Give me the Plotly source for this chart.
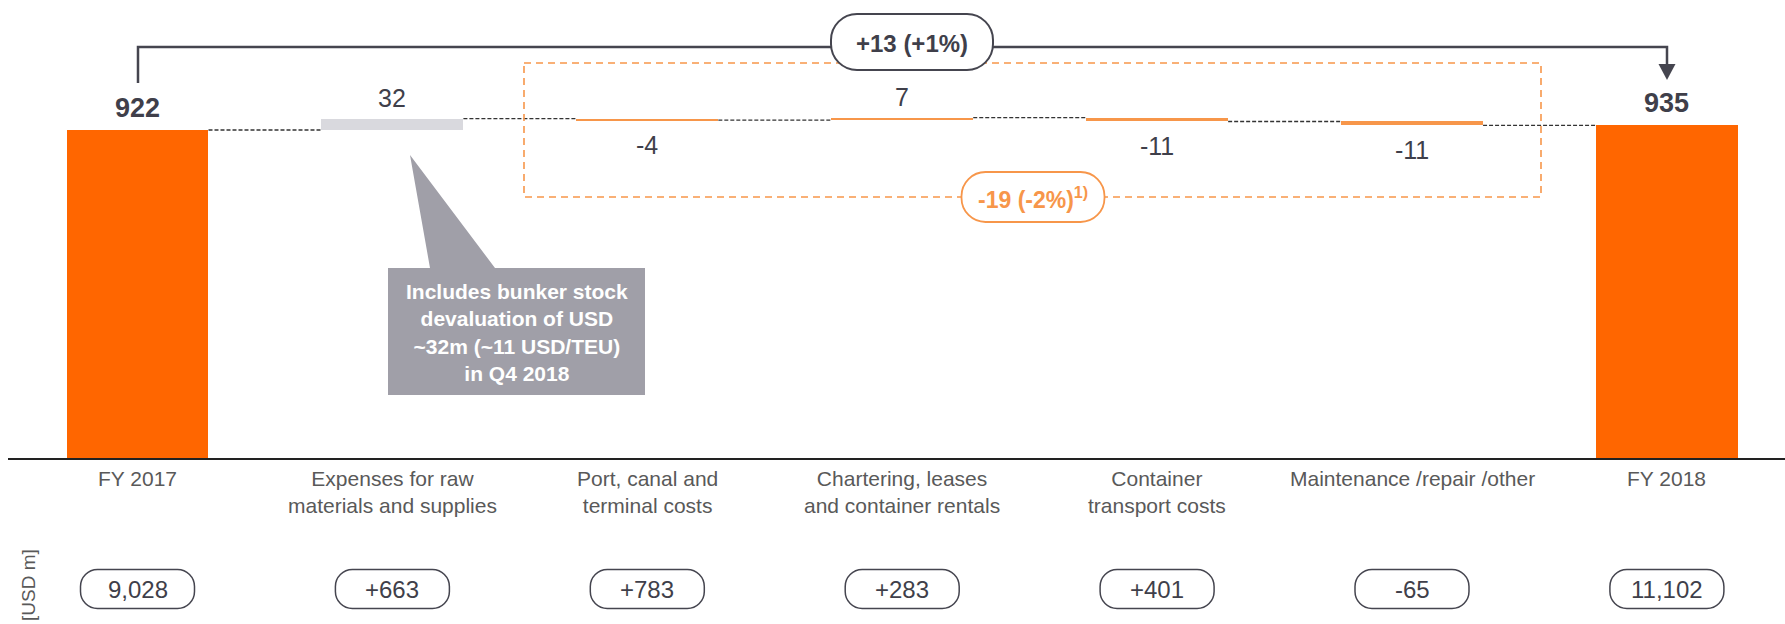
import plotly.graph_objects as go

# ---------------- data ----------------
categories = ["FY 2017", "Expenses for raw<br>materials and supplies", "Port, canal and<br>terminal costs",
              "Chartering, leases<br>and container rentals", "Container<br>transport costs",
              "Maintenance /repair /other", "FY 2018"]
values = [922, 32, -4, 7, -11, -11, 935]
measures = ["total", "delta", "delta", "delta", "delta", "delta", "total"]
value_labels = ["922", "32", "-4", "7", "-11", "-11", "935"]
cost_base_labels = ["9,028", "+663", "+783", "+283", "+401", "-65", "11,102"]
total_change_label = "+13 (+1%)"
opex_change_label = "-19 (-2%)<sup>1)</sup>"
note_text = "Includes bunker stock<br>devaluation of USD<br>~32m (~11 USD/TEU)<br>in Q4 2018"
unit_label = "[USD m]"

# ---------------- styling ----------------
ORANGE = "#FF6600"
LIGHT_ORANGE = "#F7964A"
GREY_BAR = "#D9D9DE"
DARK = "#3F3F4A"
LABEL = "#595959"
NOTE = "#A09FA8"
FONT = "Liberation Sans, Arial, sans-serif"

bar_colors = [ORANGE, GREY_BAR, LIGHT_ORANGE, LIGHT_ORANGE, LIGHT_ORANGE, LIGHT_ORANGE, ORANGE]
W = 0.557

# plot area geometry (pixels)
PL, PR, PT, PB = 8, 1785, 0, 458
FIG_W, FIG_H = 1785, 624


def pxx(x):
    return (x - PL) / (PR - PL)


def pxy(y):
    return (PB - y) / (PB - PT)


# ---------------- waterfall computation ----------------
bases, heights, tops, levels = [], [], [], []
running = 0
for v, m in zip(values, measures):
    if m == "total":
        b, h = 0, v
        running = v
    else:
        b = running if v > 0 else running + v
        h = abs(v)
        running += v
    bases.append(b)
    heights.append(h)
    tops.append(b + h)
    levels.append(running)

xs = list(range(len(categories)))

fig = go.Figure()
fig.add_trace(go.Bar(x=xs, y=heights, base=bases, width=W,
                     marker=dict(color=bar_colors, line=dict(width=0)),
                     hoverinfo="skip", showlegend=False))

# connectors
cx, cy = [], []
for i in range(len(xs) - 1):
    cx += [xs[i] + W / 2, xs[i + 1] - W / 2, None]
    cy += [levels[i], levels[i], None]
fig.add_trace(go.Scatter(x=cx, y=cy, mode="lines", line=dict(color="#333333", width=1.3, dash="4px,2px"),
                         hoverinfo="skip", showlegend=False))

shapes = []
annotations = []


def rounded(cx_, cy_, w, h, r):
    x0, x1 = cx_ - w / 2, cx_ + w / 2
    y0, y1 = cy_ - h / 2, cy_ + h / 2
    k = 0.5523 * r

    def P(x, y):
        return f"{pxx(x):.6f},{pxy(y):.6f}"
    return (f"M{P(x0 + r, y0)} L{P(x1 - r, y0)} C{P(x1 - r + k, y0)} {P(x1, y0 + r - k)} {P(x1, y0 + r)} "
            f"L{P(x1, y1 - r)} C{P(x1, y1 - r + k)} {P(x1 - r + k, y1)} {P(x1 - r, y1)} "
            f"L{P(x0 + r, y1)} C{P(x0 + r - k, y1)} {P(x0, y1 - r + k)} {P(x0, y1 - r)} "
            f"L{P(x0, y0 + r)} C{P(x0, y0 + r - k)} {P(x0 + r - k, y0)} {P(x0 + r, y0)} Z")


def poly(points, closed=True):
    s = "M" + " L".join(f"{pxx(x):.6f},{pxy(y):.6f}" for x, y in points)
    return s + (" Z" if closed else "")


# bracket with arrow (total change)
shapes.append(dict(type="path", xref="paper", yref="paper",
                   path=poly([(138, 83), (138, 47), (1667, 47), (1667, 66)], closed=False),
                   line=dict(color="#45454F", width=2.5), layer="above"))
shapes.append(dict(type="path", xref="paper", yref="paper",
                   path=poly([(1658.5, 64), (1675.5, 64), (1667, 80)]),
                   fillcolor="#45454F", line=dict(width=0), layer="above"))

# dashed box around opex items
shapes.append(dict(type="rect", xref="paper", yref="paper",
                   x0=pxx(524), x1=pxx(1541), y0=pxy(63), y1=pxy(197),
                   line=dict(color=LIGHT_ORANGE, width=1.6, dash="7px,5px"), layer="above"))

# +13 pill
shapes.append(dict(type="path", xref="paper", yref="paper", path=rounded(912, 42, 162, 56, 26),
                   fillcolor="white", line=dict(color="#45454F", width=2), layer="above"))
annotations.append(dict(xref="paper", yref="paper", x=pxx(912), y=pxy(43), text=total_change_label,
                        showarrow=False, font=dict(family=FONT, size=24, color=DARK, weight="bold"),
                        xanchor="center", yanchor="middle"))

# -19 pill
shapes.append(dict(type="path", xref="paper", yref="paper", path=rounded(1033, 197, 143, 50, 24),
                   fillcolor="white", line=dict(color=LIGHT_ORANGE, width=1.8), layer="above"))
annotations.append(dict(xref="paper", yref="paper", x=pxx(1033), y=pxy(198), text=opex_change_label,
                        showarrow=False, font=dict(family=FONT, size=23, color=LIGHT_ORANGE, weight="bold"),
                        xanchor="center", yanchor="middle"))

# note box with pointer
shapes.append(dict(type="path", xref="paper", yref="paper",
                   path=poly([(388, 268), (430, 268), (410, 155), (495, 268), (645, 268), (645, 395), (388, 395)]),
                   fillcolor=NOTE, line=dict(width=0), layer="above"))
annotations.append(dict(xref="paper", yref="paper", x=pxx(516.5), y=pxy(332), text=note_text,
                        showarrow=False, font=dict(family=FONT, size=21, color="white", weight="bold"),
                        xanchor="center", yanchor="middle", align="center"))

# value labels
for i, (v, m, lab) in enumerate(zip(values, measures, value_labels)):
    if m == "total":
        annotations.append(dict(x=xs[i], y=tops[i], xref="x", yref="y", text=lab, showarrow=False,
                                yshift=22, yanchor="middle",
                                font=dict(family=FONT, size=27, color=DARK, weight="bold")))
    elif v > 0:
        annotations.append(dict(x=xs[i], y=tops[i], xref="x", yref="y", text=lab, showarrow=False,
                                yshift=21, yanchor="middle",
                                font=dict(family=FONT, size=25, color=DARK)))
    else:
        annotations.append(dict(x=xs[i], y=bases[i], xref="x", yref="y", text=lab, showarrow=False,
                                yshift=-25, yanchor="middle",
                                font=dict(family=FONT, size=25, color=DARK)))

# category labels
for i, c in enumerate(categories):
    annotations.append(dict(x=xs[i], y=pxy(465), xref="x", yref="paper", text=c, showarrow=False,
                            yanchor="top", xanchor="center", align="center",
                            font=dict(family=FONT, size=21, color=LABEL)))

# cost base pills
for i, t in enumerate(cost_base_labels):
    cxp = 137.5 + 254.9 * i
    shapes.append(dict(type="path", xref="paper", yref="paper", path=rounded(cxp, 589, 114, 39, 17),
                       fillcolor="white", line=dict(color="#45454F", width=1.5), layer="above"))
    annotations.append(dict(x=xs[i], y=pxy(589), xref="x", yref="paper", text=t, showarrow=False,
                            yanchor="middle", xanchor="center",
                            font=dict(family=FONT, size=24, color=DARK)))

annotations.append(dict(xref="paper", yref="paper", x=pxx(28), y=pxy(585), text=unit_label, showarrow=False,
                        textangle=-90, xanchor="center", yanchor="middle",
                        font=dict(family=FONT, size=19, color=LABEL)))

fig.update_layout(
    width=FIG_W, height=FIG_H,
    margin=dict(l=PL, r=FIG_W - PR, t=PT, b=FIG_H - PB, pad=0),
    paper_bgcolor="white", plot_bgcolor="white",
    bargap=0,
    xaxis=dict(range=[-0.508, 6.463], showgrid=False, zeroline=False, showticklabels=False,
               showline=True, linecolor="#222222", linewidth=1.5, ticks="", fixedrange=True),
    yaxis=dict(range=[0, 1287.5], visible=False, fixedrange=True),
    shapes=shapes, annotations=annotations,
    showlegend=False,
)

fig.write_html("out.html")
